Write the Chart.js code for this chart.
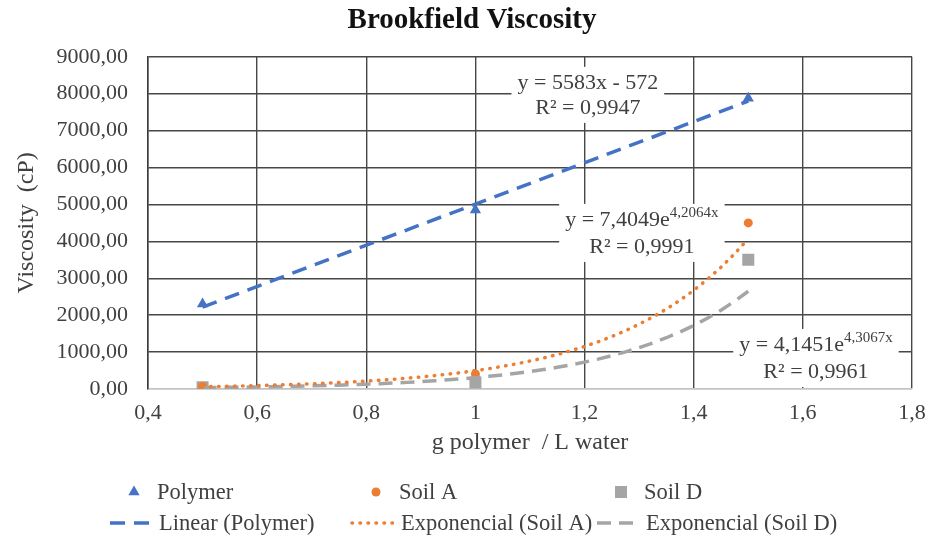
<!DOCTYPE html>
<html>
<head>
<meta charset="utf-8">
<title>Brookfield Viscosity</title>
<script src="https://cdn.jsdelivr.net/npm/chart.js@4.4.1/dist/chart.umd.min.js"></script>
<style>
    html, body { margin: 0; padding: 0; background: #fff; }
    #wrap { width: 938px; height: 542px; }
</style>
</head>
<body>
<div id="wrap"><canvas id="viscosityCanvas" width="938" height="542"></canvas></div>
<script>
// Concentración (g polymer / L water)
const concentrations = [0.5, 1, 1.5];

// Viscosidad medida (cP)
const polymerValues = [2300, 4850, 7880];
const soilAValues = [67, 406, 4500];
const soilDValues = [47, 176, 3500];

// Coeficientes de las líneas de tendencia
const polymerLinear = [5583, -572];   // pendiente, ordenada
const soilAExp = [7.4049, 4.2064];    // a, b  ->  a·e^(bx)
const soilDExp = [4.1451, 4.3067];

// Textos de las ecuaciones
const fitEquations = ['y = 5583x - 572', 'y = 7,4049e', 'y = 4,1451e'];
const fitExponents = ['', '4,2064x', '4,3067x'];
const fitR2 = ['R² = 0,9947', 'R² = 0,9991', 'R² = 0,9961'];

const seriesNames = ['Polymer', 'Soil A', 'Soil D'];
const trendNames = ['Linear (Polymer)', 'Exponencial (Soil A)', 'Exponencial (Soil D)'];

const BLUE = '#4472C4';
const ORANGE = '#ED7D31';
const GRAY = '#A5A5A5';
const TEXT = '#404040';
const SERIF = "'Liberation Serif', 'Times New Roman', serif";

Chart.defaults.font.family = SERIF;
Chart.defaults.color = TEXT;

// Curvas de tendencia evaluadas con los coeficientes
function toPoints(xs, ys) {
    return xs.map((x, i) => ({ x: x, y: ys[i] }));
}

const trendX = [];
for (let i = 0; i <= 40; i++) {
    trendX.push(concentrations[0] + (concentrations[2] - concentrations[0]) * i / 40);
}
const linearTrend = [concentrations[0], concentrations[2]].map(x => ({ x: x, y: polymerLinear[0] * x + polymerLinear[1] }));
const soilATrend = trendX.map(x => ({ x: x, y: soilAExp[0] * Math.exp(soilAExp[1] * x) }));
const soilDTrend = trendX.map(x => ({ x: x, y: soilDExp[0] * Math.exp(soilDExp[1] * x) }));

// Formato con coma decimal, sin ceros sobrantes (0,4 ... 1 ... 1,8)
function commaNumber(value, digits) {
    return String(Number(value.toFixed(digits))).replace('.', ',');
}

// El título se centra sobre todo el ancho del canvas, no sólo hasta el padding derecho
const titleSpan = {
    id: 'titleSpan',
    afterLayout(chart) {
        if (chart.titleBlock) {
            chart.titleBlock.left = 0;
            chart.titleBlock.right = chart.width + 6;
        }
    }
};

// Leyenda en dos filas dibujada sobre el canvas
const legendRows = {
    id: 'legendRows',
    afterDraw(chart, args, opts) {
        const ctx = chart.ctx;
        ctx.save();
        ctx.textBaseline = 'middle';
        ctx.textAlign = 'left';
        chart.data.datasets.forEach((d, i) => {
            const col = i % 3;
            const row = Math.floor(i / 3);
            const x0 = opts.columns[col];
            const y = opts.rows[row];
            if (d.showLine) {
                ctx.save();
                ctx.strokeStyle = d.borderColor;
                ctx.lineWidth = d.borderWidth;
                ctx.lineCap = d.borderCapStyle || 'butt';
                ctx.setLineDash(d.borderDash || []);
                ctx.beginPath();
                ctx.moveTo(x0, y);
                ctx.lineTo(x0 + opts.sampleWidth, y);
                ctx.stroke();
                ctx.restore();
            } else {
                ctx.fillStyle = d.backgroundColor;
                ctx.strokeStyle = d.backgroundColor;
                Chart.helpers.drawPoint(ctx, {
                    pointStyle: d.pointStyle,
                    radius: d.pointRadius,
                    borderWidth: 0,
                    rotation: 0
                }, x0 + opts.markerOffset, y);
            }
            ctx.font = opts.font;
            ctx.fillStyle = opts.color;
            ctx.fillText(d.label, x0 + opts.textOffset[row], y + 1);
        });
        ctx.restore();
    }
};

// Etiquetas de ecuación y R² con fondo blanco
const fitLabels = {
    id: 'fitLabels',
    afterDatasetsDraw(chart, args, opts) {
        const ctx = chart.ctx;
        const xs = chart.scales.x;
        const ys = chart.scales.y;
        ctx.save();
        ctx.textBaseline = 'middle';
        opts.anchors.forEach((a, i) => {
            const cx = xs.getPixelForValue(a[0]);
            const y1 = ys.getPixelForValue(a[1]);
            const y2 = ys.getPixelForValue(a[2]);

            ctx.font = opts.font;
            const wBase = ctx.measureText(fitEquations[i]).width;
            const wR2 = ctx.measureText(fitR2[i]).width;
            ctx.font = opts.supFont;
            const wSup = fitExponents[i] ? ctx.measureText(fitExponents[i]).width : 0;
            const w1 = wBase + wSup;
            const boxW = Math.max(w1, wR2) + 12;

            ctx.fillStyle = '#fff';
            ctx.fillRect(cx - boxW / 2, y1 - 16, boxW, (y2 - y1) + 31);

            ctx.fillStyle = opts.color;
            ctx.textAlign = 'left';
            ctx.font = opts.font;
            ctx.fillText(fitEquations[i], cx - w1 / 2, y1);
            if (fitExponents[i]) {
                ctx.font = opts.supFont;
                ctx.fillText(fitExponents[i], cx - w1 / 2 + wBase, y1 - 7);
            }
            ctx.font = opts.font;
            ctx.textAlign = 'center';
            ctx.fillText(fitR2[i], cx, y2);
        });
        ctx.restore();
    }
};

const chart = new Chart(document.getElementById('viscosityCanvas'), {
    type: 'scatter',
    data: {
        datasets: [
            {
                label: seriesNames[0],
                data: toPoints(concentrations, polymerValues),
                pointStyle: 'triangle',
                pointRadius: 6.5,
                backgroundColor: BLUE,
                borderColor: BLUE,
                borderWidth: 0,
                order: 2
            },
            {
                label: seriesNames[1],
                data: toPoints(concentrations, soilAValues),
                pointStyle: 'circle',
                pointRadius: 4.5,
                backgroundColor: ORANGE,
                borderColor: ORANGE,
                borderWidth: 0,
                order: 2
            },
            {
                label: seriesNames[2],
                data: toPoints(concentrations, soilDValues),
                pointStyle: 'rect',
                pointRadius: 8.5,
                backgroundColor: GRAY,
                borderColor: GRAY,
                borderWidth: 0,
                order: 3
            },
            {
                label: trendNames[0],
                data: linearTrend,
                showLine: true,
                pointRadius: 0,
                borderColor: BLUE,
                borderWidth: 3.5,
                borderDash: [15, 9],
                order: 1
            },
            {
                label: trendNames[1],
                data: soilATrend,
                showLine: true,
                pointRadius: 0,
                borderColor: ORANGE,
                borderWidth: 3.5,
                borderDash: [0.5, 7.5],
                borderCapStyle: 'round',
                order: 1
            },
            {
                label: trendNames[2],
                data: soilDTrend,
                showLine: true,
                pointRadius: 0,
                borderColor: GRAY,
                borderWidth: 3.5,
                borderDash: [14, 8],
                order: 1
            }
        ]
    },
    options: {
        responsive: false,
        animation: false,
        layout: {
            padding: { left: 0, right: 26, top: 0, bottom: 83 }
        },
        plugins: {
            legend: { display: false },
            tooltip: { enabled: false },
            title: {
                display: true,
                text: 'Brookfield Viscosity',
                color: '#111',
                font: { size: 29, weight: 'bold' },
                padding: { top: 3, bottom: 19 }
            },
            legendRows: {
                columns: [110, 352, 597],
                rows: [492, 523],
                sampleWidth: 44,
                markerOffset: 24,
                textOffset: [47, 49],
                font: "22.5px " + SERIF,
                color: TEXT
            },
            fitLabels: {
                anchors: [[1.206, 8295, 7617], [1.305, 4581, 3849], [1.624, 1193, 461]],
                font: "22px " + SERIF,
                supFont: "15px " + SERIF,
                color: TEXT
            }
        },
        scales: {
            x: {
                type: 'linear',
                min: 0.4,
                max: 1.8,
                ticks: {
                    stepSize: 0.2,
                    padding: 11,
                    color: TEXT,
                    font: { size: 22 },
                    callback: value => commaNumber(value, 1)
                },
                grid: { color: '#474747', lineWidth: 1.4, drawTicks: false },
                border: { color: '#c4c4c4', width: 1.5 },
                title: {
                    display: true,
                    text: 'g polymer  / L water',
                    color: TEXT,
                    font: { size: 24 },
                    padding: { top: 0, bottom: 2 }
                },
                afterFit: scale => { scale.height = 70; }
            },
            y: {
                type: 'linear',
                min: 0,
                max: 9000,
                ticks: {
                    stepSize: 1000,
                    padding: 20,
                    color: TEXT,
                    font: { size: 22 },
                    callback: value => value.toFixed(2).replace('.', ',')
                },
                grid: {
                    color: c => (c.tick && c.tick.value === 0) ? '#c4c4c4' : '#474747',
                    lineWidth: 1.4,
                    drawTicks: false
                },
                border: { color: '#3a3a3a', width: 1.5 },
                title: {
                    display: true,
                    text: 'Viscosity  (cP)',
                    color: TEXT,
                    font: { size: 24 },
                    padding: { top: 12, bottom: 0 }
                },
                afterFit: scale => { scale.width = 148; }
            }
        }
    },
    plugins: [titleSpan, legendRows, fitLabels]
});
</script>
</body>
</html>
